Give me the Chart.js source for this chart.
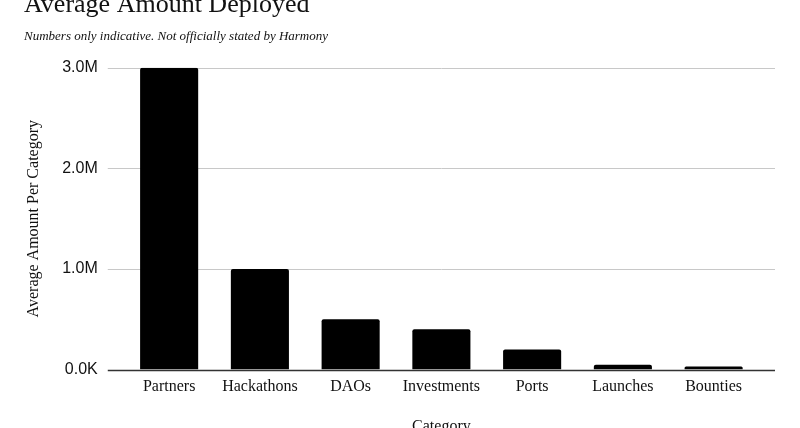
<!DOCTYPE html>
<html>
<head>
<meta charset="utf-8">
<title>Average Amount Deployed</title>
<script src="https://cdn.jsdelivr.net/npm/chart.js@4.4.1/dist/chart.umd.min.js"></script>
<style>
  html, body { margin: 0; padding: 0; background: #fff; }
  #wrap { width: 800px; height: 428px; position: relative; }
</style>
</head>
<body>
<div id="wrap"><canvas id="mycanvas"></canvas></div>
<script>
// data
var categories = ['Partners', 'Hackathons', 'DAOs', 'Investments', 'Ports', 'Launches', 'Bounties'];
var amounts = [3000000, 1000000, 500000, 400000, 200000, 47000, 30000];
var yTicks = [0, 1000000, 2000000, 3000000];

function tickLabel(v) {
  if (v === 0) return '0.0K';
  return (v / 1000000).toFixed(1) + 'M';
}

// horizontal grid lines run a little past the plot on both sides
var wideGrid = {
  id: 'wideGrid',
  beforeDatasetsDraw: function(chart) {
    var ctx = chart.ctx;
    var area = chart.chartArea;
    var y = chart.scales.y;
    ctx.save();
    for (var i = 0; i < yTicks.length; i++) {
      var py = Math.round(y.getPixelForValue(yTicks[i])) + 0.5;
      ctx.beginPath();
      ctx.moveTo(area.left - 16, py);
      ctx.lineTo(area.right + 16, py);
      if (yTicks[i] === 0) {
        ctx.strokeStyle = '#333';
        ctx.lineWidth = 1.5;
      } else {
        ctx.strokeStyle = '#c8c8c8';
        ctx.lineWidth = 1;
      }
      ctx.stroke();
    }
    ctx.restore();
  }
};

var serif = "'Liberation Serif', 'DejaVu Serif', serif";
var sans = "'Liberation Sans', Arial, sans-serif";

var chartdata = {
  labels: categories,
  datasets: [
    {
      label: 'Average Amount Per Category',
      backgroundColor: '#000',
      borderWidth: 0,
      borderRadius: 2,
      categoryPercentage: 0.64,
      barPercentage: 1,
      data: amounts
    }
  ]
};

var barGraph = new Chart(document.getElementById('mycanvas'), {
  type: 'bar',
  data: chartdata,
  plugins: [wideGrid],
  options: {
    responsive: true,
    maintainAspectRatio: false,
    animation: false,
    layout: { padding: { left: 24, right: 41, top: -10, bottom: -8 } },
    plugins: {
      legend: { display: false },
      tooltip: { enabled: false },
      title: {
        display: true,
        text: 'Average Amount Deployed',
        align: 'start',
        color: '#111',
        font: { family: serif, size: 26, weight: 'normal' },
        padding: { top: 0, bottom: 8 }
      },
      subtitle: {
        display: true,
        text: 'Numbers only indicative. Not officially stated by Harmony',
        align: 'start',
        color: '#111',
        font: { family: serif, size: 13, style: 'italic' },
        padding: { top: 0, bottom: 23 }
      }
    },
    scales: {
      x: {
        grid: { display: false },
        border: { display: false },
        ticks: {
          color: '#111',
          padding: 0,
          font: { family: serif, size: 16 }
        },
        title: {
          display: true,
          text: 'Category',
          color: '#111',
          font: { family: serif, size: 16 },
          padding: { top: 20, bottom: 0 }
        }
      },
      y: {
        min: 0,
        max: 3000000,
        grid: { display: false, drawTicks: false },
        border: { display: false },
        afterBuildTicks: function(scale) {
          scale.ticks = yTicks.map(function(v) { return { value: v }; });
        },
        ticks: {
          color: '#111',
          padding: 26,
          font: { family: sans, size: 16 },
          callback: function(v) { return tickLabel(v); }
        },
        title: {
          display: true,
          text: 'Average Amount Per Category',
          color: '#111',
          font: { family: serif, size: 16 },
          padding: { top: 0, bottom: -7 }
        }
      }
    }
  }
});
</script>
</body>
</html>
